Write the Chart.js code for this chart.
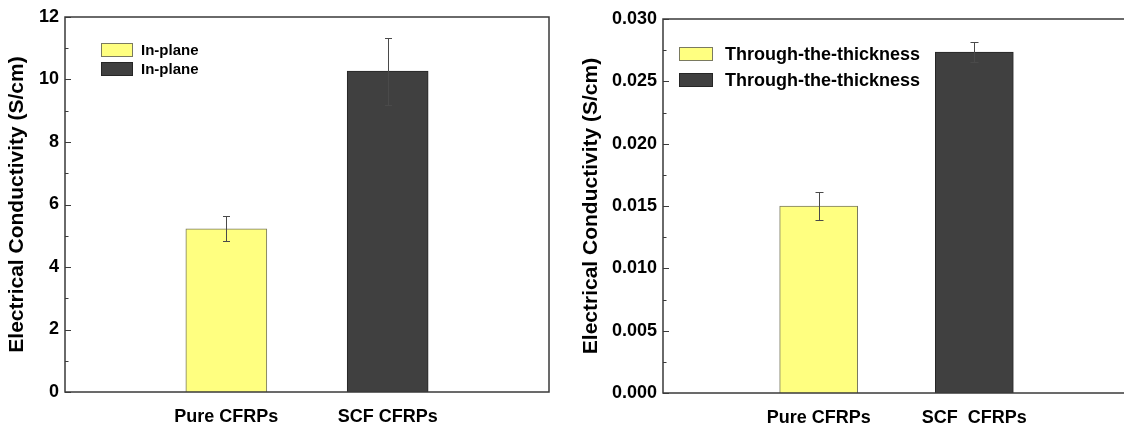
<!DOCTYPE html>
<html>
<head>
<meta charset="utf-8">
<script src="https://cdn.jsdelivr.net/npm/chart.js@4.4.0/dist/chart.umd.min.js"></script>
<style>
  html, body { margin: 0; padding: 0; background: #fff; overflow: hidden; }
  body { width: 1124px; height: 430px; position: relative; }
  .panel { position: absolute; top: 0; height: 430px; }
  #left { left: 0; width: 560px; }
  #right { left: 560px; width: 600px; }
</style>
</head>
<body>
<div class="panel" id="left"><canvas id="inPlaneChart"></canvas></div>
<div class="panel" id="right"><canvas id="throughChart"></canvas></div>
<script>
'use strict';

// samples, one bar each
var categories = ['Pure CFRPs', 'SCF CFRPs'];
var throughCategories = ['Pure CFRPs', 'SCF  CFRPs'];

// in-plane conductivity, S/cm
var inPlaneValues = [5.22, 10.27];
var inPlaneErrors = [0.40, 1.07];
var inPlaneTicks = [0, 2, 4, 6, 8, 10, 12];

// through-the-thickness conductivity, S/cm
var throughValues = [0.0150, 0.02735];
var throughErrors = [0.00115, 0.00078];
var throughTicks = [0, 0.005, 0.010, 0.015, 0.020, 0.025, 0.030];

var barColors = ['#ffff80', '#404040'];
var barBorders = ['#7a7a60', '#262626'];

var FONT = 'Arial, "Liberation Sans", Helvetica, sans-serif';

// draws the plot box and the inward major/minor ticks on the y axis
var axisFrame = {
    id: 'axisFrame',
    afterDatasetsDraw: function(chart) {
        var ctx = chart.ctx, a = chart.chartArea, y = chart.scales.y;
        var vals = y.ticks.map(function(t) { return t.value; });
        ctx.save();
        ctx.strokeStyle = '#3a3a3a';
        ctx.lineWidth = 1.5;
        ctx.strokeRect(a.left, a.top, a.right - a.left, a.bottom - a.top);
        ctx.lineWidth = 1;
        ctx.beginPath();
        vals.forEach(function(v, i) {
            var py = Math.round(y.getPixelForValue(v)) + 0.5;
            ctx.moveTo(a.left, py);
            ctx.lineTo(a.left + 6, py);
            if (i < vals.length - 1) {
                var my = Math.round(y.getPixelForValue((v + vals[i + 1]) / 2)) + 0.5;
                ctx.moveTo(a.left, my);
                ctx.lineTo(a.left + 3.5, my);
            }
        });
        ctx.stroke();
        ctx.restore();
    }
};

var errorBars = {
    id: 'errorBars',
    afterDatasetsDraw: function(chart, args, opts) {
        var ctx = chart.ctx, y = chart.scales.y;
        ctx.save();
        ctx.strokeStyle = opts.color;
        ctx.lineWidth = 1;
        chart.data.datasets.forEach(function(ds, i) {
            chart.getDatasetMeta(i).data.forEach(function(bar, j) {
                var v = ds.data[j].y, e = ds.errors[j];
                var top = Math.round(y.getPixelForValue(v + e)) + 0.5;
                var bot = Math.round(y.getPixelForValue(v - e)) + 0.5;
                var x = Math.round(bar.x) + 0.5, w = opts.capWidth / 2;
                ctx.beginPath();
                ctx.moveTo(x, top); ctx.lineTo(x, bot);
                ctx.moveTo(x - w, top); ctx.lineTo(x + w, top);
                ctx.moveTo(x - w, bot); ctx.lineTo(x + w, bot);
                ctx.stroke();
            });
        });
        ctx.restore();
    }
};

// legend boxes inside the plot area
var boxLegend = {
    id: 'boxLegend',
    afterDraw: function(chart, args, opts) {
        var ctx = chart.ctx, a = chart.chartArea;
        ctx.save();
        ctx.font = opts.font;
        ctx.textBaseline = 'middle';
        chart.data.datasets.forEach(function(ds, i) {
            var bx = a.left + opts.x, by = a.top + opts.y + i * opts.rowStep;
            ctx.fillStyle = ds.backgroundColor;
            ctx.fillRect(bx, by, opts.boxWidth, opts.boxHeight);
            ctx.strokeStyle = ds.borderColor;
            ctx.lineWidth = 1;
            ctx.strokeRect(bx + 0.5, by + 0.5, opts.boxWidth - 1, opts.boxHeight - 1);
            ctx.fillStyle = '#000';
            ctx.fillText(ds.label, bx + opts.boxWidth + opts.gap, by + opts.boxHeight / 2 + 1);
        });
        ctx.restore();
    }
};

function buildDatasets(label, cats, values, errors, thickness) {
    return values.map(function(v, i) {
        return {
            label: label,
            data: [{ x: cats[i], y: v }],
            errors: [errors[i]],
            backgroundColor: barColors[i],
            borderColor: barBorders[i],
            borderWidth: 1,
            barThickness: thickness,
            grouped: false
        };
    });
}

function makeChart(id, cfg) {
    // an empty slot on each side keeps the bars at 1/3 and 2/3 of the axis
    var labels = [''].concat(cfg.cats, ['']);
    return new Chart(document.getElementById(id), {
        type: 'bar',
        data: {
            labels: labels,
            datasets: buildDatasets(cfg.label, cfg.cats, cfg.values, cfg.errors, cfg.barWidth)
        },
        options: {
            responsive: true,
            maintainAspectRatio: false,
            animation: false,
            layout: { padding: cfg.padding },
            scales: {
                x: {
                    type: 'category',
                    offset: false,
                    afterFit: function(scale) {
                        scale.height = cfg.xHeight;
                        scale.paddingLeft = 0;
                        scale.paddingRight = 0;
                    },
                    grid: { display: false, drawTicks: false },
                    border: { display: false },
                    ticks: {
                        padding: 14,
                        maxRotation: 0,
                        autoSkip: false,
                        color: '#000',
                        font: { family: FONT, size: 18, weight: 'bold' }
                    }
                },
                y: {
                    min: cfg.ticks[0],
                    max: cfg.ticks[cfg.ticks.length - 1],
                    afterBuildTicks: function(scale) {
                        scale.ticks = cfg.ticks.map(function(t) { return { value: t }; });
                    },
                    afterFit: function(scale) { scale.width = cfg.yWidth; },
                    grid: { display: false, drawTicks: false },
                    border: { display: false },
                    ticks: {
                        padding: 6,
                        color: '#000',
                        font: { family: FONT, size: 18, weight: 'bold' },
                        callback: cfg.format
                    },
                    title: {
                        display: true,
                        text: 'Electrical Conductivity (S/cm)',
                        color: '#000',
                        padding: { top: cfg.titlePad, bottom: 0 },
                        font: { family: FONT, size: 21, weight: 'bold' }
                    }
                }
            },
            plugins: {
                legend: { display: false },
                tooltip: { enabled: false },
                errorBars: { color: '#4a4a4a', capWidth: cfg.cap },
                boxLegend: cfg.legend
            }
        },
        plugins: [errorBars, axisFrame, boxLegend]
    });
}

makeChart('inPlaneChart', {
    label: 'In-plane',
    cats: categories,
    values: inPlaneValues,
    errors: inPlaneErrors,
    ticks: inPlaneTicks,
    format: function(v) { return String(v); },
    barWidth: 81,
    cap: 7,
    padding: { top: 17, right: 11, bottom: 0, left: 0 },
    xHeight: 38,
    yWidth: 65,
    titlePad: 5,
    legend: { x: 36, y: 26, boxWidth: 32, boxHeight: 14, rowStep: 19, gap: 8,
              font: 'bold 15px ' + FONT }
});

makeChart('throughChart', {
    label: 'Through-the-thickness',
    cats: throughCategories,
    values: throughValues,
    errors: throughErrors,
    ticks: throughTicks,
    format: function(v) { return v.toFixed(3); },
    barWidth: 78,
    cap: 8,
    padding: { top: 19, right: 30, bottom: 0, left: 0 },
    xHeight: 37,
    yWidth: 103,
    titlePad: 19,
    legend: { x: 16, y: 28, boxWidth: 34, boxHeight: 14, rowStep: 26, gap: 12,
              font: 'bold 18px ' + FONT }
});
</script>
</body>
</html>
